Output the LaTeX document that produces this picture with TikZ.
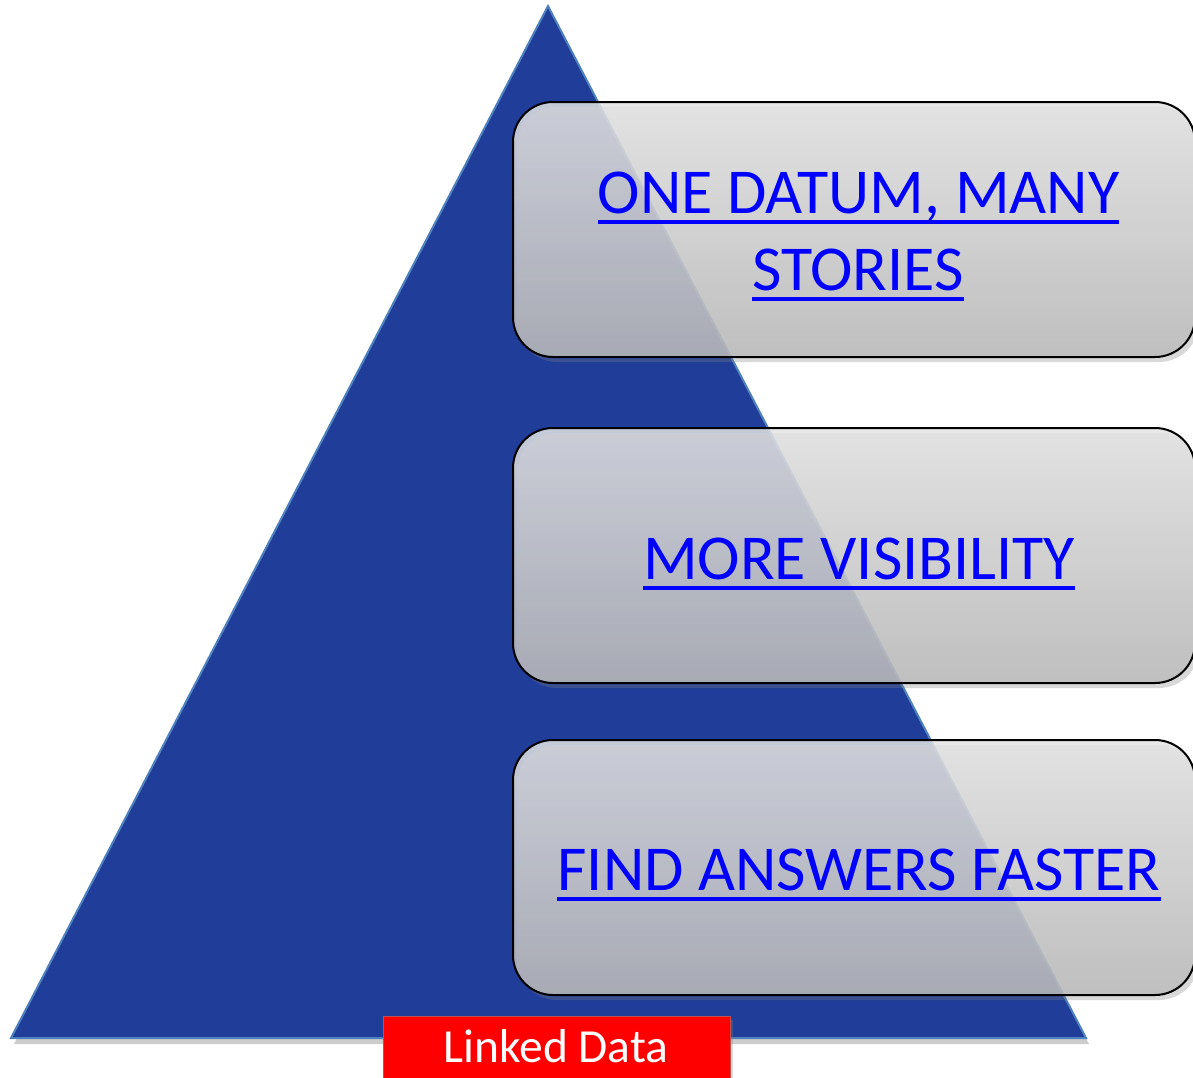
\documentclass[tikz,border=0pt]{standalone}
\usepackage{fontspec}
\setmainfont{Carlito}
\usetikzlibrary{shadows,calc}
\definecolor{triblue}{HTML}{1F3D99}
\definecolor{triedge}{HTML}{4F81BD}
\definecolor{linkblue}{HTML}{0000FF}
\definecolor{gtop}{HTML}{E4E4E4}
\definecolor{gbot}{HTML}{BBBBBB}
\definecolor{redfill}{HTML}{FF0000}
\definecolor{rededge}{HTML}{C0504D}
\begin{document}
\begin{tikzpicture}[x=1pt,y=-1pt,
  tri/.style={fill=triblue, draw=triedge, line width=2pt, line join=miter,
    drop shadow={opacity=0.4, shadow xshift=3pt, shadow yshift=-6pt}},
  card/.style={draw=black, line width=2pt, rounded corners=40pt,
    top color=gtop, bottom color=gbot, fill opacity=0.85,
    minimum width=682pt, minimum height=255pt, inner sep=0pt,
    drop shadow={opacity=0.3, shadow xshift=4pt, shadow yshift=-5pt}},
  lbl/.style={text=linkblue, font=\fontsize{64}{76}\selectfont, inner sep=0pt, anchor=base},
  uline/.style={draw=linkblue, line width=4.5pt},
  redbox/.style={fill=redfill, draw=rededge, line width=1pt,
    minimum width=347pt, minimum height=80pt, inner sep=0pt,
    drop shadow={opacity=0.3, shadow xshift=3pt, shadow yshift=-4pt}},
  redlbl/.style={text=white, font=\fontsize{47.5}{56}\selectfont, inner sep=0pt, anchor=base}
]
\useasboundingbox (0,0) rectangle (1193,1077);
\coordinate (apex) at (548,6);
\coordinate (bl) at (11,1038);
\coordinate (br) at (1086,1038);
\draw[tri] (apex) -- (br) -- (bl) -- cycle;

\node[card] (box1) at (854,229.5) {};
\node[card] (box2) at (854,555.5) {};
\node[card] (box3) at (854,867.5) {};

\node[lbl] (t1a) at (858.5,213) {ONE DATUM, MANY};
\node[lbl] (t1b) at (858,290) {STORIES};
\node[lbl] (t2) at (859,579) {MORE VISIBILITY};
\node[lbl] (t3) at (859,890) {FIND ANSWERS FASTER};
\foreach \n in {t1a,t1b,t2,t3}{
  \draw[uline] ($(\n.base west)+(0,9)$) -- ($(\n.base east)+(0,9)$);
}

\node[redbox] (red) at (556.5,1056) {};
\node[redlbl] (ld) at (556,1062) {Linked Data};
\end{tikzpicture}
\end{document}
